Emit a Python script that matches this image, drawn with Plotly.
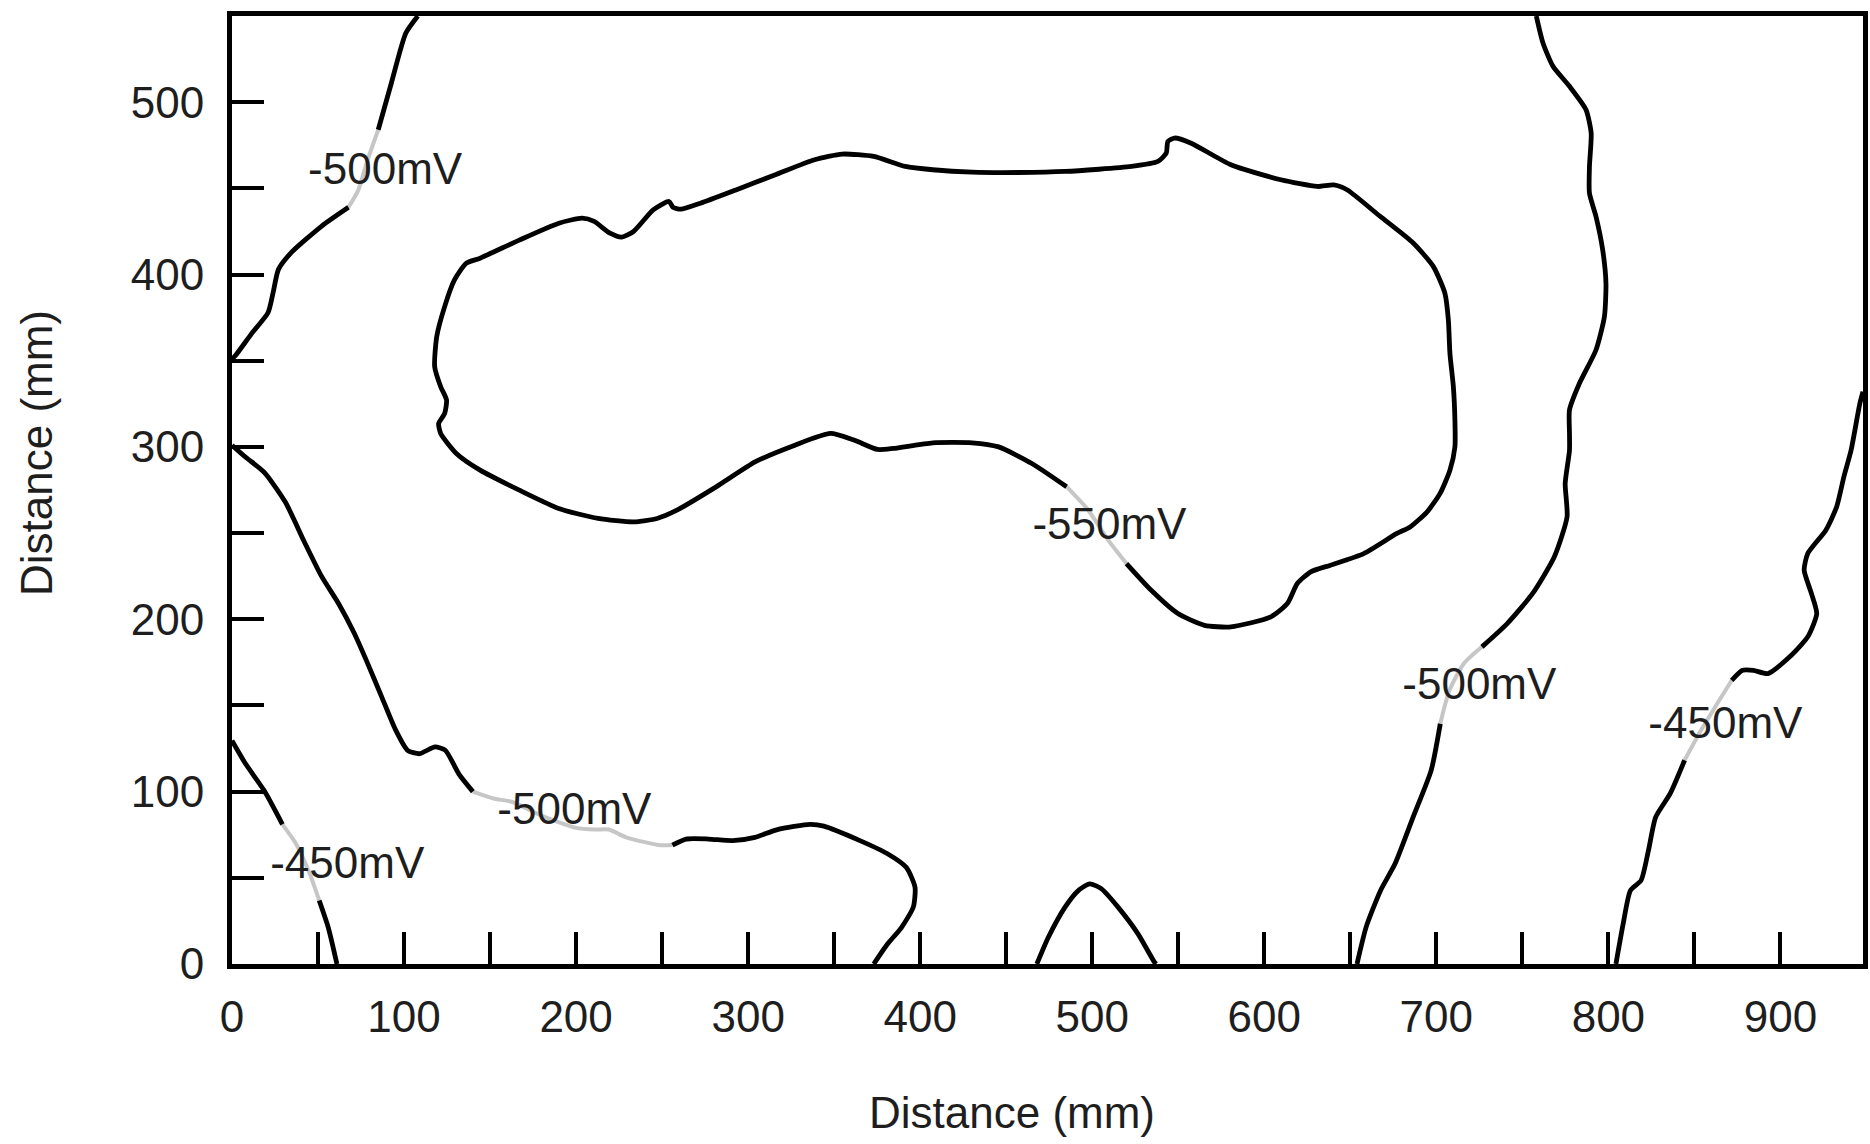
import plotly.graph_objects as go

# ---------------- data (mm) ----------------
# -500 mV, upper-left contour
c500_ul_a_x = [108, 101, 92.6, 85]
c500_ul_a_y = [550, 540, 511, 484]
c500_ul_g_x = [85, 79, 73.4, 67.7]
c500_ul_g_y = [484, 467, 449, 439]
c500_ul_b_x = [67.7, 52, 34.7, 27, 24, 21, 11.6, 2, 0]
c500_ul_b_y = [439, 428, 413, 403, 390, 378, 366, 353, 351]

# -500 mV, lower-left contour
c500_ll_a_x = [0, 8, 19, 31, 42, 52, 62, 71, 79, 87, 95, 102, 109, 118, 124, 132, 140]
c500_ll_a_y = [301, 294, 285, 268, 245, 225, 209, 192, 174, 155, 136, 124, 122, 126, 124, 110, 100]
c500_ll_g_x = [140, 152, 163, 180, 200, 211, 219, 229, 248, 256]
c500_ll_g_y = [100, 96, 94, 86, 79, 78, 78, 73.5, 69, 69]
c500_ll_b_x = [256, 264, 277, 291, 304, 317, 336, 344, 365, 381, 392, 397, 396, 389, 381, 373]
c500_ll_b_y = [69, 72.5, 72.5, 71.6, 73.5, 78, 81, 80, 71.6, 64, 56, 44.5, 33, 21, 11.6, 0]

# -550 mV, closed contour
c550_a_x = [485.1, 464.9, 445.6, 430.2, 407.3, 384.4, 375.2, 361.5, 347.8, 327.2, 304.3, 281.4,
            258.6, 247.1, 233.4, 212.8, 189.9, 167, 144.2, 130.4, 121.3, 120.1, 123.6, 124.7,
            121.3, 117.8, 119, 123.6, 129.3, 136.2, 144.2, 167, 190, 203.6, 210.5, 219.7, 226.5,
            233.4, 244.8, 254, 256.3, 260.8, 272.3, 292.9, 315.8, 338.6, 354.7, 373, 391.3,
            407.3, 430.2, 457, 484.2, 522.8, 538.2, 543, 544, 547.8, 557.5, 580.6, 609.6, 630.8,
            640.4, 648.1, 667.4, 686.7, 698.3, 705, 707, 707.9, 709.9, 710.8, 710.8, 707.9,
            702.2, 694.4, 684.8, 677.1, 657.8, 638.5, 627, 619.2, 613.4, 603.8, 580.6, 565.2,
            549.8, 534.3, 519.9]
c550_a_y = [276.9, 290.4, 300, 302.4, 302.4, 299.1, 298.5, 304, 307.8, 301, 291.4, 276.8,
            263.3, 258.5, 256.5, 258.5, 264.3, 274.9, 286.5, 296.2, 307.8, 313.6, 319.4, 327.2,
            334.9, 346.5, 364, 381.4, 396.9, 406.6, 409.5, 420, 429.8, 432.7, 430.8, 424, 421.7,
            425, 437.5, 442.4, 439, 437.9, 441.4, 449.1, 457.9, 466.6, 469.9, 468.5, 462.7,
            460.8, 459.4, 459.2, 459.8, 462.7, 465.6, 470.4, 477.2, 479.2, 476.2, 463.7, 455,
            451.1, 452, 449.2, 433.7, 418.2, 404.6, 389.1, 373.6, 354.3, 334.9, 315.6, 300,
            286.5, 273, 262, 253.6, 249.8, 238.1, 231.4, 227.5, 220.7, 209.1, 201.4, 195.6,
            196.5, 203.3, 216.8, 232.3]
c550_g_x = [519.9, 509.3, 497.7, 485.1]
c550_g_y = [232.3, 245.9, 263.3, 276.9]

# small closed-off contour at the bottom near 500 mm
bump_x = [467.8, 474.5, 484.2, 491.9, 498.6, 505.4, 515, 526.6, 536.2, 537.2]
bump_y = [0, 15.5, 33, 42.6, 46.5, 43.6, 33, 17.5, 1, 0]

# -500 mV, right contour
c500_r_a_x = [653.9, 659.2, 667.6, 676, 686.5, 697, 702.3]
c500_r_a_y = [0, 21.4, 42.7, 58.1, 85.2, 112.3, 139.4]
c500_r_g_x = [702.3, 707.6, 716, 726.5]
c500_r_g_y = [139.4, 158.8, 174.3, 184]
c500_r_b_x = [726.5, 741.2, 756, 768.6, 776, 774.9, 777.4, 777.4, 777.4, 783.2, 792.8, 797.7,
              798.6, 796.7, 792.8, 789, 789, 790, 787, 777.4, 767.8, 762, 758.1]
c500_r_b_y = [184, 197.5, 215, 236.3, 259.5, 278.8, 298, 307.8, 321.4, 336.9, 356.2, 375.6,
              394.9, 414.3, 433.7, 447.2, 462.7, 482, 495.6, 509.2, 520.8, 534.3, 550]

# -450 mV, right contour
c450_r_a_x = [804.4, 808.6, 812.8, 819, 823.3, 827.5, 835.9, 844.3]
c450_r_a_y = [0, 23.3, 42.6, 48.5, 65.9, 85.2, 98.8, 118.2]
c450_r_g_x = [844.3, 852.7, 863.3, 871.7]
c450_r_g_y = [118.2, 133.6, 151.1, 164.6]
c450_r_b_x = [871.7, 878, 884.3, 892.7, 905.4, 915.9, 921.1, 918, 913.8, 915.9, 926.4, 932.7,
              936.9, 941.1, 946.2, 948]
c450_r_b_y = [164.6, 170.4, 170.4, 168.5, 178.2, 189.8, 203.3, 215, 228.5, 238.2, 251.7, 265.3,
              282.7, 298.2, 325.3, 332]

# -450 mV, lower-left contour
c450_l_a_x = [0, 8, 18.7, 29.3]
c450_l_a_y = [129.6, 116, 100.6, 81]
c450_l_g_x = [29.3, 37.3, 45.3, 50.7]
c450_l_g_y = [81, 69.6, 52, 36.8]
c450_l_b_x = [50.7, 56, 61]
c450_l_b_y = [36.8, 21, 0]

# contour labels
label_text = ["-500mV", "-500mV", "-450mV", "-550mV", "-500mV", "-450mV"]
label_x = [89, 199, 67, 510, 725, 868]
label_y = [459, 87.5, 56.5, 253, 160, 137.5]

x_ticks = list(range(0, 951, 50))
x_tick_text = [str(v) if v % 100 == 0 else "" for v in x_ticks]
y_ticks = list(range(0, 551, 50))
y_tick_text = [str(v) if v % 100 == 0 else "" for v in y_ticks]

x_title = "Distance (mm)"
y_title = "Distance (mm)"

# ---------------- figure ----------------
BLACK = "#000000"
GRAY = "#c6c6c6"
TEXT = "#1e1e1e"
FONT = "Liberation Sans, Arial, sans-serif"

fig = go.Figure()

black_pieces = [
    (c500_ul_a_x, c500_ul_a_y), (c500_ul_b_x, c500_ul_b_y),
    (c500_ll_a_x, c500_ll_a_y), (c500_ll_b_x, c500_ll_b_y),
    (c550_a_x, c550_a_y), (bump_x, bump_y),
    (c500_r_a_x, c500_r_a_y), (c500_r_b_x, c500_r_b_y),
    (c450_r_a_x, c450_r_a_y), (c450_r_b_x, c450_r_b_y),
    (c450_l_a_x, c450_l_a_y), (c450_l_b_x, c450_l_b_y),
]
gray_pieces = [
    (c500_ul_g_x, c500_ul_g_y), (c500_ll_g_x, c500_ll_g_y), (c550_g_x, c550_g_y),
    (c500_r_g_x, c500_r_g_y), (c450_r_g_x, c450_r_g_y), (c450_l_g_x, c450_l_g_y),
]

for xs, ys in gray_pieces:
    fig.add_trace(go.Scatter(x=xs, y=ys, mode="lines", hoverinfo="skip",
                             line=dict(color=GRAY, width=4, shape="spline", smoothing=0.6),
                             showlegend=False))
for xs, ys in black_pieces:
    fig.add_trace(go.Scatter(x=xs, y=ys, mode="lines", hoverinfo="skip",
                             line=dict(color=BLACK, width=4.8, shape="spline", smoothing=0.6),
                             showlegend=False))

fig.add_trace(go.Scatter(x=label_x, y=label_y, mode="text", text=label_text,
                         textfont=dict(family=FONT, size=44, color=TEXT),
                         textposition="middle center", hoverinfo="skip", showlegend=False))

axis_common = dict(
    showgrid=False, zeroline=False, showline=True, linecolor=BLACK, linewidth=5,
    mirror=True, ticks="inside", ticklen=32, tickwidth=4, tickcolor=BLACK,
    tickfont=dict(family=FONT, size=44, color=TEXT),
)

fig.update_xaxes(range=[0, 948], tickmode="array", tickvals=x_ticks, ticktext=x_tick_text,
                 ticklabelstandoff=10, **axis_common)
fig.update_yaxes(range=[0, 550], tickmode="array", tickvals=y_ticks, ticktext=y_tick_text,
                 ticklabelstandoff=14, **axis_common)

# axis titles (placed off-centre as in the original)
fig.add_annotation(text=x_title, xref="paper", yref="paper", x=0.4785, y=0,
                   xanchor="center", yanchor="middle", yshift=-148, showarrow=False,
                   font=dict(family=FONT, size=44, color=TEXT))
fig.add_annotation(text=y_title, xref="paper", yref="paper", x=0, y=0.539,
                   xanchor="center", yanchor="middle", xshift=-196, textangle=-90,
                   showarrow=False, font=dict(family=FONT, size=44, color=TEXT))

fig.update_layout(
    width=1870, height=1144,
    margin=dict(l=232, r=2, t=16, b=180),
    paper_bgcolor="white", plot_bgcolor="white",
    font=dict(family=FONT),
)

fig.write_html("out.html")
